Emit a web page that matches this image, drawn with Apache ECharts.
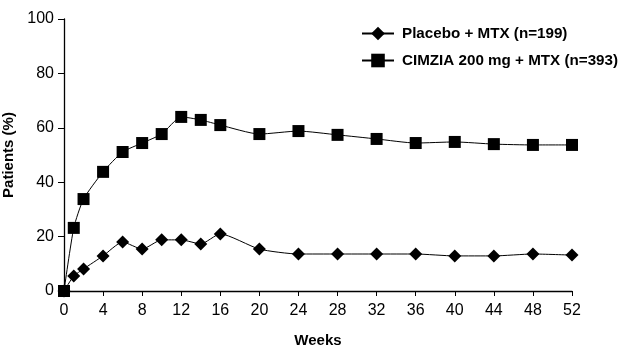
<!DOCTYPE html>
<html><head><meta charset="utf-8">
<script src="https://cdn.jsdelivr.net/npm/echarts@6/dist/echarts.min.js"></script>
<style>html,body{margin:0;padding:0;background:#fff}#c{width:626px;height:357px}</style>
</head><body><div id="c"></div>
<script>
const weeks = [0,1,2,4,6,8,10,12,14,16,20,24,28,32,36,40,44,48,52];
const placebo = [0,5.5,8.1,12.9,18.0,15.4,18.8,18.8,17.3,21.0,15.4,13.6,13.6,13.6,13.6,12.9,12.9,13.6,13.2];
const cimzia = [0,23.2,33.8,43.8,51.1,54.4,57.7,64.0,62.9,61.0,57.7,58.8,57.4,55.9,54.4,54.8,54.0,53.7,53.7];
const seriesNames = ['Placebo + MTX (n=199)','CIMZIA 200 mg + MTX (n=393)'];
const xTicks = {min:0,max:52,interval:4};
const yTicks = {min:0,max:100,interval:20};

const font = 'Liberation Sans, Arial, sans-serif';
const chart = echarts.init(document.getElementById('c'));
chart.setOption({
  animation:false,
  backgroundColor:'#fff',
  textStyle:{fontFamily:font},
  grid:{left:64,right:54,top:19,bottom:66,containLabel:false,outerBoundsMode:'none'},
  legend:{
    orient:'vertical', left:356, top:21, itemGap:12,
    itemWidth:32, itemHeight:17,
    textStyle:{fontFamily:font,fontWeight:'bold',fontSize:15.2,color:'#000',padding:[0,0,0,3]},
    data:seriesNames
  },
  xAxis:{
    type:'value', min:xTicks.min, max:xTicks.max, interval:xTicks.interval,
    name:'Weeks', nameLocation:'middle', nameGap:42,
    nameTextStyle:{fontFamily:font,fontWeight:'bold',fontSize:15,color:'#000',letterSpacing:1.5},
    axisLine:{onZero:false,lineStyle:{color:'#000',width:1.3}},
    axisTick:{show:true,inside:false,length:5,lineStyle:{color:'#000'}},
    axisLabel:{fontFamily:font,fontSize:16,color:'#000',margin:12},
    splitLine:{show:false}
  },
  yAxis:{
    type:'value', min:yTicks.min, max:yTicks.max, interval:yTicks.interval,
    name:'Patients (%)', nameLocation:'middle', nameGap:44,
    nameTextStyle:{fontFamily:font,fontWeight:'bold',fontSize:15,color:'#000'},
    axisLine:{show:true,lineStyle:{color:'#000',width:1.3}},
    axisTick:{show:true,inside:false,length:6,lineStyle:{color:'#000'}},
    axisLabel:{fontFamily:font,fontSize:16,color:'#000',margin:10},
    splitLine:{show:false}
  },
  series:[
    {name:seriesNames[0],type:'line',data:weeks.map((w,i)=>[w,placebo[i]]),
     symbol:'diamond',symbolSize:13,smooth:0.2,
     itemStyle:{color:'#000'},lineStyle:{color:'#000',width:1}},
    {name:seriesNames[1],type:'line',data:weeks.map((w,i)=>[w,cimzia[i]]),
     symbol:'rect',symbolSize:12,smooth:0.2,
     itemStyle:{color:'#000'},lineStyle:{color:'#000',width:1}}
  ]
});
</script></body></html>
